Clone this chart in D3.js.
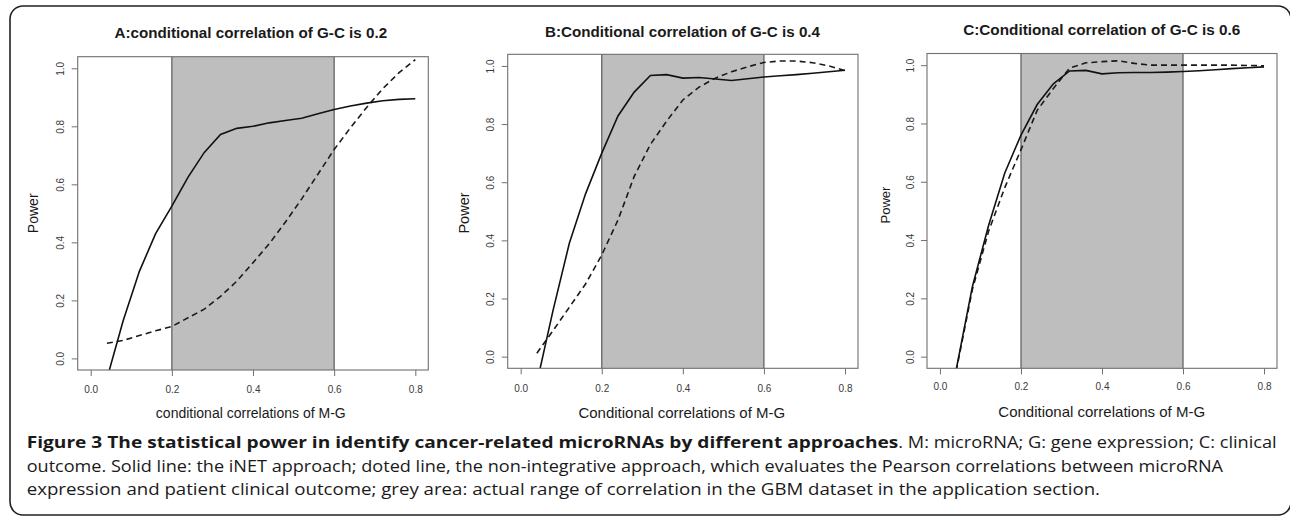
<!DOCTYPE html>
<html><head><meta charset="utf-8">
<script src="https://cdn.jsdelivr.net/npm/d3@7"></script>
<style>body{margin:0;background:#fff}svg{display:block}</style>
</head><body>
<svg id="chart" width="1290" height="516"></svg>
<script>
// ---- data ----
const xValues = [0.04,0.08,0.12,0.16,0.20,0.24,0.28,0.32,0.36,0.40,0.44,0.48,0.52,0.56,0.60,0.64,0.68,0.72,0.76,0.80];
const solidA  = [-0.07,0.13,0.30,0.43,0.525,0.625,0.71,0.772,0.793,0.80,0.812,0.82,0.828,0.843,0.858,0.87,0.88,0.888,0.893,0.895];
const dashedA = [0.052,0.062,0.079,0.095,0.11,0.14,0.17,0.214,0.266,0.33,0.395,0.47,0.55,0.635,0.72,0.795,0.865,0.93,0.985,1.03];
const solidB  = [-0.09,0.16,0.39,0.56,0.70,0.828,0.91,0.967,0.97,0.958,0.96,0.955,0.95,0.956,0.962,0.966,0.97,0.975,0.98,0.985];
const dashedB = [0.012,0.09,0.17,0.25,0.35,0.47,0.62,0.73,0.81,0.883,0.927,0.958,0.98,0.997,1.012,1.017,1.017,1.011,1.0,0.984];
const solidC  = [-0.045,0.24,0.45,0.63,0.76,0.865,0.936,0.98,0.982,0.97,0.974,0.975,0.975,0.976,0.978,0.981,0.984,0.988,0.991,0.994];
const dashedC = [-0.05,0.23,0.43,0.58,0.71,0.845,0.92,0.99,1.008,1.012,1.015,1.006,1.0,1.0,1.0,1.0,1.0,1.0,0.999,0.998];
const xTicks = [0.0,0.2,0.4,0.6,0.8];
const yTicks = [0.0,0.2,0.4,0.6,0.8,1.0];
const greyRange = [0.2,0.6];
const titles = ["A:conditional correlation of G-C is 0.2","B:Conditional correlation of G-C is 0.4","C:Conditional correlation of G-C is 0.6"];
const xLabels = ["conditional correlations of M-G","Conditional correlations of M-G","Conditional correlations of M-G"];
const yLabel = "Power";
const captionBold = "Figure 3 The statistical power in identify cancer-related microRNAs by different approaches";
const captionLines = [
  ". M: microRNA; G: gene expression; C: clinical",
  "outcome. Solid line: the iNET approach; doted line, the non-integrative approach, which evaluates the Pearson correlations between microRNA",
  "expression and patient clinical outcome; grey area: actual range of correlation in the GBM dataset in the application section."
];

// ---- layout ----
const panels = [
  {solid:solidA, dashed:dashedA, l:77.7, r:428.3, t:56.7, b:370, titleX:250.8, titleY:38.4, titleFs:15.2,
   xlabX:250.8, xlabY:418, xlabFs:14, ylabX:38.3, ylabY:213.3, ylabFs:14, tickY:392.9, tickX:63.6},
  {solid:solidB, dashed:dashedB, l:507.7, r:858, t:54.3, b:368.3, titleX:682.5, titleY:37.1, titleFs:15.2,
   xlabX:681.8, xlabY:418.4, xlabFs:15, ylabX:468.6, ylabY:213, ylabFs:14.5, tickY:391.9, tickX:493.6},
  {solid:solidC, dashed:dashedC, l:927, r:1277, t:53.5, b:368.3, titleX:1101.7, titleY:35.4, titleFs:15.3,
   xlabX:1101.7, xlabY:417.1, xlabFs:15, ylabX:889.7, ylabY:205, ylabFs:13, tickY:390.3, tickX:913.6}
];

const svg = d3.select("#chart");
const plotFont = "'Liberation Sans', Arial, sans-serif";

// outer frame
svg.append("rect").attr("x",10).attr("y",6).attr("width",1281).attr("height",509)
  .attr("rx",13).attr("ry",13).attr("fill","none").attr("stroke","#222").attr("stroke-width",1.6);

const defs = svg.append("defs");

panels.forEach((p, i) => {
  const x = d3.scaleLinear().domain([-0.032, 0.832]).range([p.l, p.r]);
  const y = d3.scaleLinear().domain([-0.04, 1.04]).range([p.b, p.t]);
  const g = svg.append("g");

  defs.append("clipPath").attr("id","clip"+i).append("rect")
    .attr("x",p.l).attr("y",p.t).attr("width",p.r-p.l).attr("height",p.b-p.t);

  // grey band
  g.append("rect").attr("x",x(greyRange[0])).attr("y",p.t)
    .attr("width",x(greyRange[1])-x(greyRange[0])).attr("height",p.b-p.t)
    .attr("fill","#bebebe");
  g.selectAll("line.band").data(greyRange).enter().append("line")
    .attr("x1",d=>x(d)).attr("x2",d=>x(d)).attr("y1",p.t).attr("y2",p.b)
    .attr("stroke","#5a5a5a").attr("stroke-width",1.2);

  const line = d3.line().x((d,j)=>x(xValues[j])).y(d=>y(d));
  const lg = g.append("g").attr("clip-path",`url(#clip${i})`);
  lg.append("path").attr("d",line(p.dashed)).attr("fill","none")
    .attr("stroke","#1a1a1a").attr("stroke-width",1.6).attr("stroke-dasharray","6,4");
  lg.append("path").attr("d",line(p.solid)).attr("fill","none")
    .attr("stroke","#111").attr("stroke-width",1.6);

  // box
  g.append("rect").attr("x",p.l).attr("y",p.t).attr("width",p.r-p.l).attr("height",p.b-p.t)
    .attr("fill","none").attr("stroke","#707070").attr("stroke-width",1.1);

  // x axis
  const xa = g.append("g").attr("transform",`translate(0,${p.b})`)
    .call(d3.axisBottom(x).tickValues(xTicks).tickSize(6).tickFormat(d3.format(".1f")));
  xa.select(".domain").remove();
  xa.selectAll("line").attr("stroke","#707070");
  xa.selectAll("text").attr("y",p.tickY-p.b).attr("dy",null)
    .attr("font-family",plotFont).attr("font-size",10).attr("fill","#3a3a3a");

  // y axis
  const ya = g.append("g").attr("transform",`translate(${p.l},0)`)
    .call(d3.axisLeft(y).tickValues(yTicks).tickSize(6).tickFormat(d3.format(".1f")));
  ya.select(".domain").remove();
  ya.selectAll("line").attr("stroke","#707070");
  ya.selectAll("text").attr("x",0).attr("y",0).attr("dy",null)
    .attr("text-anchor","middle")
    .attr("transform",`translate(${p.tickX-p.l},0) rotate(-90)`)
    .attr("font-family",plotFont).attr("font-size",10).attr("fill","#3a3a3a");

  // title
  g.append("text").attr("x",p.titleX).attr("y",p.titleY).attr("text-anchor","middle")
    .attr("font-family",plotFont).attr("font-weight","bold").attr("font-size",p.titleFs)
    .attr("fill","#1a1a1a").text(titles[i]);
  // x label
  g.append("text").attr("x",p.xlabX).attr("y",p.xlabY).attr("text-anchor","middle")
    .attr("font-family",plotFont).attr("font-size",p.xlabFs).attr("fill","#1a1a1a").text(xLabels[i]);
  // y label
  g.append("text").attr("text-anchor","middle")
    .attr("transform",`translate(${p.ylabX},${p.ylabY}) rotate(-90)`)
    .attr("font-family",plotFont).attr("font-size",p.ylabFs).attr("fill","#1a1a1a").text(yLabel);
});

// caption
const capFont = "'Open Sans', 'Noto Sans', sans-serif";
const cap = svg.append("g").attr("font-family",capFont).attr("font-size",16).attr("fill","#1a1a1a");
cap.append("text").attr("x",26.7).attr("y",448.3).attr("font-weight","bold")
  .attr("textLength",871.6).attr("lengthAdjust","spacingAndGlyphs").text(captionBold);
cap.append("text").attr("x",898.3).attr("y",448.3)
  .attr("textLength",378.4).attr("lengthAdjust","spacingAndGlyphs").text(captionLines[0]);
cap.append("text").attr("x",26.7).attr("y",471.7)
  .attr("textLength",1196.3).attr("lengthAdjust","spacingAndGlyphs").text(captionLines[1]);
cap.append("text").attr("x",26.7).attr("y",495)
  .attr("textLength",1073.3).attr("lengthAdjust","spacingAndGlyphs").text(captionLines[2]);
</script>
</body></html>
